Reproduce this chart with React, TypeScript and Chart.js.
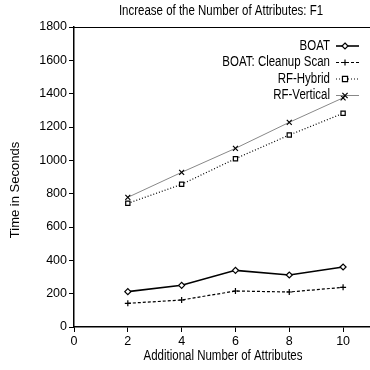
import React, { useEffect, useRef } from "react";
import { Chart, registerables } from "chart.js";

Chart.register(...registerables);

const xValues = [2, 4, 6, 8, 10];
const boat = [212, 250, 340, 312, 360];
const boatCleanup = [142, 162, 216, 210, 238];
const rfHybrid = [742, 856, 1010, 1152, 1282];
const rfVertical = [778, 928, 1072, 1228, 1375];
const seriesNames = ["BOAT", "BOAT: Cleanup Scan", "RF-Hybrid", "RF-Vertical"];
const titleText = "Increase of the Number of Attributes: F1";
const xTitle = "Additional Number of Attributes";
const yTitle = "Time in Seconds";

const SANS = "'Liberation Sans', Arial, sans-serif";
const NARROW_SCALE = 0.82;

const toPoints = (ys: number[]) => xValues.map((x, i) => ({ x, y: ys[i] }));

function narrowText(
  ctx: CanvasRenderingContext2D,
  text: string,
  x: number,
  y: number,
  align: CanvasTextAlign,
  size = 14
) {
  ctx.save();
  ctx.font = `${size}px ${SANS}`;
  ctx.textAlign = align;
  ctx.textBaseline = "middle";
  ctx.fillStyle = "#000";
  ctx.translate(x, y);
  ctx.scale(NARROW_SCALE, 1);
  ctx.fillText(text, 0, 0);
  ctx.restore();
}

function drawPointStyle(ctx: CanvasRenderingContext2D, style: string, r: number, x: number, y: number) {
  ctx.beginPath();
  if (style === "rectRot") {
    ctx.moveTo(x, y - r);
    ctx.lineTo(x + r, y);
    ctx.lineTo(x, y + r);
    ctx.lineTo(x - r, y);
    ctx.closePath();
    ctx.fill();
    ctx.stroke();
  } else if (style === "rect") {
    const s = r * 0.85;
    ctx.rect(x - s, y - s, 2 * s, 2 * s);
    ctx.fill();
    ctx.stroke();
  } else if (style === "cross") {
    ctx.moveTo(x, y - r);
    ctx.lineTo(x, y + r);
    ctx.moveTo(x - r, y);
    ctx.lineTo(x + r, y);
    ctx.stroke();
  } else if (style === "crossRot") {
    const s = r * 0.75;
    ctx.moveTo(x - s, y - s);
    ctx.lineTo(x + s, y + s);
    ctx.moveTo(x + s, y - s);
    ctx.lineTo(x - s, y + s);
    ctx.stroke();
  }
}

const overlayPlugin = {
  id: "overlay",
  afterDraw(chart: any) {
    const ctx = chart.ctx as CanvasRenderingContext2D;
    const a = chart.chartArea;
    ctx.save();
    // top border
    ctx.strokeStyle = "#000";
    ctx.lineWidth = 1;
    ctx.beginPath();
    ctx.moveTo(a.left, a.top + 0.5);
    ctx.lineTo(a.right, a.top + 0.5);
    ctx.stroke();
    // titles
    narrowText(ctx, titleText, 221, 11, "center");
    narrowText(ctx, xTitle, 223, 356, "center");
    ctx.save();
    ctx.translate(15, 190);
    ctx.rotate(-Math.PI / 2);
    ctx.font = `13px ${SANS}`;
    ctx.textAlign = "center";
    ctx.textBaseline = "middle";
    ctx.fillStyle = "#000";
    ctx.fillText(yTitle, 0, 0);
    ctx.restore();
    // legend
    const rowsY = [46, 62.5, 79, 95.5];
    chart.data.datasets.forEach((ds: any, i: number) => {
      const y = rowsY[i];
      narrowText(ctx, ds.label, 330, y, "right");
      ctx.save();
      ctx.strokeStyle = ds.borderColor;
      ctx.lineWidth = ds.borderWidth;
      ctx.setLineDash(ds.borderDash || []);
      ctx.beginPath();
      ctx.moveTo(336, y);
      ctx.lineTo(359, y);
      ctx.stroke();
      ctx.restore();
      const el = chart.getDatasetMeta(i).data[0];
      if (el) {
        const o = el.options;
        ctx.save();
        ctx.strokeStyle = o.borderColor;
        ctx.fillStyle = o.backgroundColor;
        ctx.lineWidth = o.borderWidth;
        drawPointStyle(ctx, o.pointStyle, o.radius, 345, y);
        ctx.restore();
      }
    });
    ctx.restore();
  },
};

export default function App() {
  const ref = useRef<HTMLCanvasElement | null>(null);

  useEffect(() => {
    if (!ref.current) return;
    const tickFont = { family: SANS, size: 12.5 };
    const chart = new Chart(ref.current, {
      type: "line",
      data: {
        datasets: [
          {
            label: seriesNames[0],
            data: toPoints(boat),
            borderColor: "#000",
            borderWidth: 1.6,
            pointStyle: "rectRot",
            pointRadius: 3,
            pointBackgroundColor: "#fff",
            pointBorderColor: "#000",
            pointBorderWidth: 1.2,
          },
          {
            label: seriesNames[1],
            data: toPoints(boatCleanup),
            borderColor: "#000",
            borderWidth: 1.2,
            borderDash: [3, 2],
            pointStyle: "cross",
            pointRadius: 3,
            pointBackgroundColor: "#000",
            pointBorderColor: "#000",
            pointBorderWidth: 1.2,
          },
          {
            label: seriesNames[2],
            data: toPoints(rfHybrid),
            borderColor: "#000",
            borderWidth: 1.2,
            borderDash: [1, 2],
            pointStyle: "rect",
            pointRadius: 3,
            pointBackgroundColor: "#fff",
            pointBorderColor: "#000",
            pointBorderWidth: 1.2,
          },
          {
            label: seriesNames[3],
            data: toPoints(rfVertical),
            borderColor: "#888",
            borderWidth: 1,
            pointStyle: "crossRot",
            pointRadius: 3.5,
            pointBackgroundColor: "#000",
            pointBorderColor: "#000",
            pointBorderWidth: 1.2,
          },
        ],
      },
      options: {
        animation: false,
        responsive: false,
        devicePixelRatio: 1,
        layout: { autoPadding: false, padding: { top: 27, left: 0, right: 0, bottom: 0 } },
        plugins: {
          legend: { display: false },
          title: { display: false },
          tooltip: { enabled: false },
        },
        elements: { line: { tension: 0 } },
        scales: {
          x: {
            type: "linear",
            min: 0,
            max: 11,
            afterBuildTicks: (scale: any) => {
              scale.ticks = scale.ticks.filter((t: any) => t.value % 2 === 0);
            },
            afterFit: (scale: any) => {
              scale.height = 43;
              scale.paddingRight = 0;
            },
            ticks: {
              stepSize: 2,
              color: "#000",
              font: tickFont,
              padding: 2,
              maxRotation: 0,
              autoSkip: false,
              callback: (v: any) => String(v),
            },
            grid: {
              display: true,
              drawOnChartArea: false,
              drawTicks: true,
              tickLength: 5,
              color: "#000",
            },
            border: { display: true, color: "#000", width: 1.5 },
          },
          y: {
            type: "linear",
            min: 0,
            max: 1800,
            afterFit: (scale: any) => {
              scale.width = 74;
            },
            ticks: {
              stepSize: 200,
              color: "#000",
              font: tickFont,
              padding: 2,
              callback: (v: any) => String(v),
            },
            grid: {
              display: true,
              drawOnChartArea: false,
              drawTicks: true,
              tickLength: 5,
              color: "#000",
            },
            border: { display: true, color: "#000", width: 1.5 },
          },
        },
      },
      plugins: [overlayPlugin],
    } as any);
    return () => chart.destroy();
  }, []);

  return (
    <div style={{ position: "fixed", left: 0, top: 0, width: 370, height: 370, background: "#fff" }}>
      <canvas ref={ref} width={370} height={370} style={{ width: 370, height: 370, display: "block" }} />
    </div>
  );
}
